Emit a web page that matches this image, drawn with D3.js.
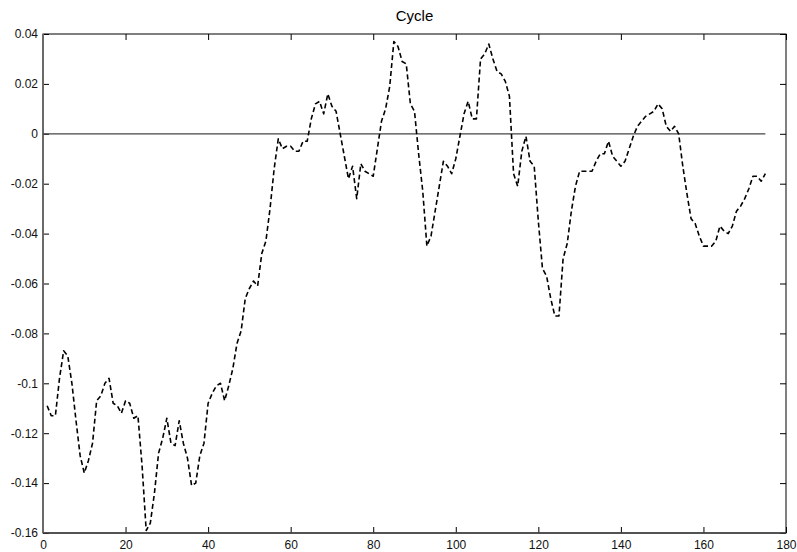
<!DOCTYPE html>
<html>
<head>
<meta charset="utf-8">
<script src="https://cdn.jsdelivr.net/npm/d3@7"></script>
<style>
  body { margin: 0; background: #fff; }
  svg { display: block; font-family: "Liberation Sans", Arial, sans-serif; }
</style>
</head>
<body>
<svg id="chart" width="797" height="552"></svg>
<script>
// cycle values, one per period 1..175
const cycle = [
  -0.109, -0.113, -0.113, -0.098, -0.087, -0.089, -0.100, -0.115, -0.129, -0.136,
  -0.131, -0.124, -0.107, -0.105, -0.100, -0.098, -0.108, -0.109, -0.112, -0.107,
  -0.108, -0.114, -0.113, -0.133, -0.159, -0.156, -0.144, -0.128, -0.122, -0.114,
  -0.124, -0.125, -0.115, -0.124, -0.130, -0.141, -0.140, -0.129, -0.124, -0.108,
  -0.104, -0.101, -0.100, -0.107, -0.101, -0.094, -0.084, -0.079, -0.066, -0.062,
  -0.059, -0.061, -0.048, -0.043, -0.030, -0.014, -0.002, -0.006, -0.005, -0.005,
  -0.007, -0.007, -0.003, -0.003, 0.006, 0.012, 0.013, 0.008, 0.016, 0.011,
  0.009, 0.000, -0.009, -0.018, -0.013, -0.026, -0.012, -0.015, -0.016, -0.017,
  -0.006, 0.005, 0.010, 0.019, 0.037, 0.035, 0.029, 0.028, 0.012, 0.009,
  -0.008, -0.023, -0.045, -0.041, -0.031, -0.021, -0.011, -0.013, -0.016, -0.010,
  -0.001, 0.008, 0.013, 0.006, 0.006, 0.030, 0.032, 0.036, 0.030, 0.025,
  0.024, 0.021, 0.015, -0.016, -0.021, -0.007, -0.001, -0.011, -0.013, -0.035,
  -0.054, -0.057, -0.066, -0.073, -0.073, -0.050, -0.044, -0.031, -0.021, -0.015,
  -0.015, -0.015, -0.015, -0.011, -0.008, -0.008, -0.003, -0.009, -0.011, -0.013,
  -0.011, -0.006, -0.001, 0.003, 0.005, 0.007, 0.008, 0.009, 0.012, 0.010,
  0.003, 0.001, 0.003, 0.000, -0.013, -0.024, -0.034, -0.036, -0.041, -0.045,
  -0.045, -0.045, -0.043, -0.037, -0.039, -0.040, -0.037, -0.031, -0.029, -0.026,
  -0.022, -0.017, -0.017, -0.019, -0.016
];
const periods = cycle.map((d, i) => i + 1);

const xTicks = [0, 20, 40, 60, 80, 100, 120, 140, 160, 180];
const yTicks = [0.04, 0.02, 0, -0.02, -0.04, -0.06, -0.08, -0.1, -0.12, -0.14, -0.16];
const zeroLineX = [0, 175];
const title = "Cycle";

// layout
const W = 797, H = 552;
const margin = { top: 34, right: 11, bottom: 19, left: 43 };
const innerW = W - margin.left - margin.right;
const innerH = H - margin.top - margin.bottom;
const TICK = 6;

const svg = d3.select("#chart");
const g = svg.append("g").attr("transform", `translate(${margin.left},${margin.top})`);

const x = d3.scaleLinear().domain([0, 180]).range([0, innerW]);
const y = d3.scaleLinear().domain([-0.16, 0.04]).range([innerH, 0]);

const fmt = v => String(+v.toFixed(2));

// bottom axis (ticks pointing in)
g.append("g")
  .attr("transform", `translate(0,${innerH})`)
  .call(d3.axisBottom(x).tickValues(xTicks).tickSizeInner(-TICK).tickSizeOuter(0).tickPadding(7).tickFormat(d3.format("d")));
// left axis
g.append("g")
  .call(d3.axisLeft(y).tickValues(yTicks).tickSizeInner(-TICK).tickSizeOuter(0).tickPadding(5).tickFormat(fmt));
// top and right: ticks only
g.append("g")
  .call(d3.axisTop(x).tickValues(xTicks).tickSizeInner(-TICK).tickSizeOuter(0).tickFormat(""));
g.append("g")
  .attr("transform", `translate(${innerW},0)`)
  .call(d3.axisRight(y).tickValues(yTicks).tickSizeInner(-TICK).tickSizeOuter(0).tickFormat(""));

g.selectAll(".domain").remove();
g.selectAll(".tick line").attr("stroke", "#000").attr("stroke-width", 1);
g.selectAll(".tick text")
  .attr("fill", "#111")
  .attr("font-size", 12)
  .attr("font-family", "Liberation Sans, Arial, sans-serif");

// box
g.append("rect")
  .attr("width", innerW)
  .attr("height", innerH)
  .attr("fill", "none")
  .attr("stroke", "#000")
  .attr("stroke-width", 1);
g.append("line")
  .attr("x1", 0).attr("x2", 0).attr("y1", 0).attr("y2", innerH)
  .attr("stroke", "#6a6a6a").attr("stroke-width", 2);
g.append("line")
  .attr("x1", 0).attr("x2", innerW).attr("y1", innerH).attr("y2", innerH)
  .attr("stroke", "#444").attr("stroke-width", 1.5);

// zero line
g.append("line")
  .attr("x1", x(zeroLineX[0])).attr("x2", x(zeroLineX[1]))
  .attr("y1", y(0)).attr("y2", y(0))
  .attr("stroke", "#444").attr("stroke-width", 1.2);

// cycle series
const line = d3.line()
  .x((d, i) => x(periods[i]))
  .y(d => y(d));

g.append("path")
  .datum(cycle)
  .attr("fill", "none")
  .attr("stroke", "#000")
  .attr("stroke-width", 1.6)
  .attr("stroke-dasharray", "5,3")
  .attr("stroke-linejoin", "round")
  .attr("d", line);

// title
svg.append("text")
  .attr("x", margin.left + innerW / 2)
  .attr("y", 21)
  .attr("text-anchor", "middle")
  .attr("font-size", 15)
  .attr("fill", "#000")
  .text(title);
</script>
</body>
</html>
